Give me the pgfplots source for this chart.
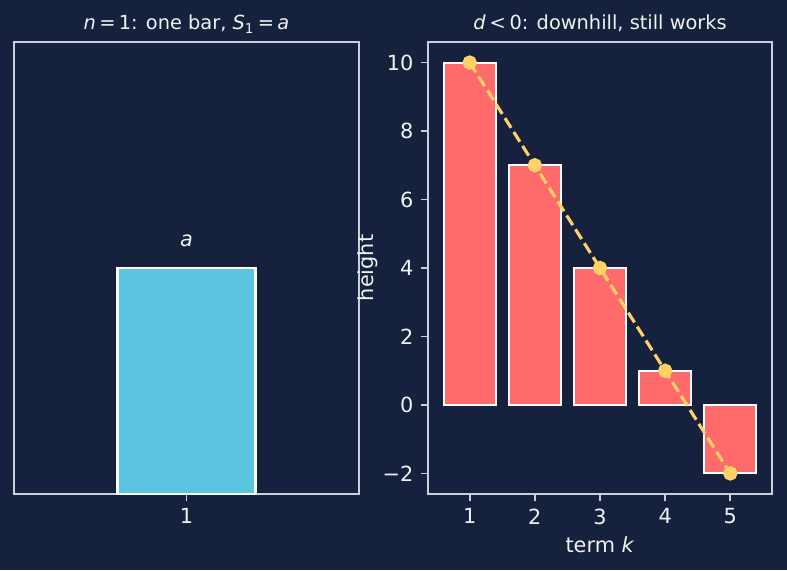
\documentclass[border=0pt]{standalone}
\usepackage{fontspec}
\setmainfont{DejaVu Sans}
\usepackage{pgfplots}
\pgfplotsset{compat=1.18}
\definecolor{bg}{HTML}{16213E}
\definecolor{spine}{HTML}{C8D0DC}
\definecolor{txt}{HTML}{F2F2F2}
\definecolor{barred}{HTML}{FF6B6B}
\definecolor{barcyan}{HTML}{5BC4DE}
\definecolor{lineyel}{HTML}{FFD166}
\newcommand{\ms}{\hspace{0.17em}}
\pgfplotsset{
  every axis title shift=0pt,
  darkax/.style={
    scale only axis,
    axis background/.style={fill=bg},
    axis line style={spine, line width=0.8pt},
    every tick/.style={spine, line width=0.8pt},
    major tick length=3.5pt,
    tick align=outside,
    tick pos=left,
    tick label style={font=\fontsize{10}{12}\selectfont, text=txt},
    label style={font=\fontsize{10}{12}\selectfont, text=txt},
    title style={font=\fontsize{9.3}{11}\selectfont, text=txt, at={(0.5,1)}, anchor=base, yshift=5.8pt},
    /pgf/number format/assume math mode=true,
  }
}
\begin{document}
\begin{tikzpicture}[x=1pt,y=1pt]
\fill[bg] (0,0) rectangle (377.76,273.6);
% left panel
\begin{axis}[darkax,
  at={(6.72pt,36.48pt)}, anchor=south west,
  width=165.6pt, height=216.96pt,
  xmin=0.5, xmax=1.5, ymin=0, ymax=2,
  xtick={1}, xticklabels={1}, ytick=\empty,
  title={\textit{n}\ms=\ms1: one bar, \textit{S}\textsubscript{1}\ms=\ms\textit{a}},
  clip=false]
\addplot[ybar, bar width=0.4, bar shift=0pt, fill=barcyan, draw=white, line width=1pt]
  coordinates {(1,1)};
\node[text=txt, font=\fontsize{10}{12}\selectfont\itshape] at (axis cs:1,1.12) {a};
\end{axis}
% right panel
\begin{axis}[darkax,
  at={(205.44pt,36.48pt)}, anchor=south west,
  width=165.12pt, height=216.96pt,
  xmin=0.36, xmax=5.64, ymin=-2.6, ymax=10.6,
  xtick={1,2,3,4,5}, xticklabels={1,2,3,4,5},
  ytick={-2,0,2,4,6,8,10}, yticklabels={−2,0,2,4,6,8,10},
  title={\textit{d}\hspace{0.2em}<\hspace{0.2em}0: downhill, still works},
  xlabel={term \textit{k}}, ylabel={height},
  ylabel style={at={(axis description cs:0,0.5)}, anchor=south, yshift=20.6pt},
  xlabel style={at={(axis description cs:0.5,0)}, anchor=north, yshift=-17pt},
  clip=false]
\addplot[ybar, bar width=0.8, bar shift=0pt, fill=barred, draw=white, line width=1pt]
  coordinates {(1,10) (2,7) (3,4) (4,1) (5,-2)};
\addplot[lineyel, line width=1.5pt, dash pattern=on 5.5pt off 2.4pt,
  mark=*, mark size=2.7pt, mark options={solid, fill=lineyel, draw=lineyel}]
  coordinates {(1,10) (2,7) (3,4) (4,1) (5,-2)};
\end{axis}
\end{tikzpicture}
\end{document}
